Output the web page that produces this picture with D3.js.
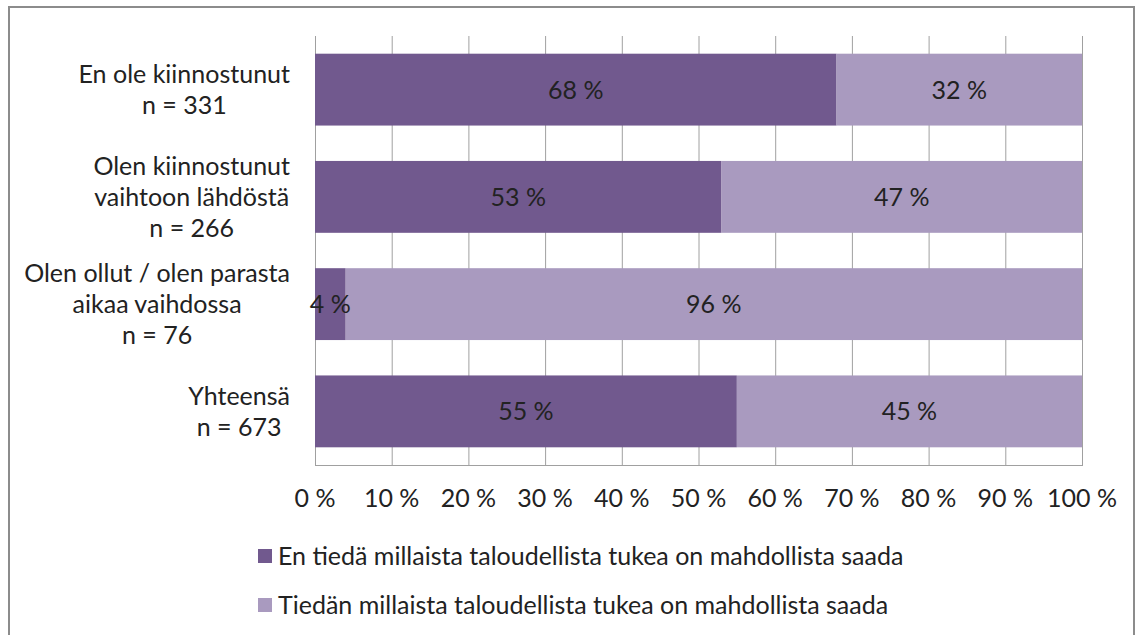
<!DOCTYPE html>
<html>
<head>
<meta charset="utf-8">
<script src="https://cdn.jsdelivr.net/npm/d3@7"></script>
<style>
  body { margin: 0; background: #fff; }
  text { font-family: Lato, "Open Sans", sans-serif; fill: #222; }
</style>
</head>
<body>
<div id="chart"></div>
<script>
// data
var categories = [
  ["En ole kiinnostunut", "n = 331"],
  ["Olen kiinnostunut", "vaihtoon lähdöstä", "n = 266"],
  ["Olen ollut / olen parasta", "aikaa vaihdossa", "n = 76"],
  ["Yhteensä", "n = 673"]
];
var dontKnow = [68, 53, 4, 55];
var know = [32, 47, 96, 45];
var seriesNames = [
  "En tiedä millaista taloudellista tukea on mahdollista saada",
  "Tiedän millaista taloudellista tukea on mahdollista saada"
];
var colors = ["#71598e", "#a99abf"];
var ticks = [0, 10, 20, 30, 40, 50, 60, 70, 80, 90, 100];

var W = 1144, H = 635;
var fs = 25;

var svg = d3.select("#chart").append("svg")
    .attr("width", W)
    .attr("height", H);

// outer frame
svg.append("rect")
    .attr("x", 9).attr("y", 7)
    .attr("width", 1125).attr("height", 640)
    .attr("fill", "none")
    .attr("stroke", "#8c8c8c")
    .attr("stroke-width", 2);

var x = d3.scaleLinear().domain([0, 100]).range([315, 1082]);
var y = d3.scaleBand().domain(d3.range(categories.length)).range([36, 465]).paddingInner(0.33).paddingOuter(0.165);

// grid lines
svg.append("g").selectAll("line")
  .data(ticks)
  .enter().append("line")
    .attr("x1", function(d) { return x(d) + 0.5; })
    .attr("x2", function(d) { return x(d) + 0.5; })
    .attr("y1", 36).attr("y2", 465)
    .attr("stroke", "#a0a0a0");

svg.append("line")
    .attr("x1", x(0)).attr("x2", x(100) + 1)
    .attr("y1", 465.5).attr("y2", 465.5)
    .attr("stroke", "#a0a0a0");

// bars
var stacked = categories.map(function(c, i) {
  return [
    {i: i, s: 0, x0: 0, x1: dontKnow[i], v: dontKnow[i]},
    {i: i, s: 1, x0: dontKnow[i], x1: 100, v: know[i]}
  ];
});

var rows = svg.append("g").selectAll("g")
  .data(stacked)
  .enter().append("g");

rows.selectAll("rect")
  .data(function(d) { return d; })
  .enter().append("rect")
    .attr("x", function(d) { return x(d.x0); })
    .attr("width", function(d) { return x(d.x1) - x(d.x0); })
    .attr("y", function(d) { return y(d.i); })
    .attr("height", y.bandwidth())
    .attr("fill", function(d) { return colors[d.s]; });

rows.selectAll("text")
  .data(function(d) { return d; })
  .enter().append("text")
    .attr("x", function(d) { return (x(d.x0) + x(d.x1)) / 2; })
    .attr("y", function(d) { return y(d.i) + y.bandwidth() / 2; })
    .attr("dy", "0.36em")
    .attr("text-anchor", "middle")
    .style("font-size", fs + "px")
    .text(function(d) { return d.v + " %"; });

// category labels, lines centred inside a block that ends at x = 290
var lineH = 31;
categories.forEach(function(lines, i) {
  var g = svg.append("g");
  var cy = y(i) + y.bandwidth() / 2;
  var t0 = cy - (lines.length - 1) * lineH / 2;
  var texts = g.selectAll("text")
    .data(lines)
    .enter().append("text")
      .attr("y", function(d, k) { return t0 + k * lineH; })
      .attr("dy", "0.36em")
      .attr("text-anchor", "middle")
      .style("font-size", fs + "px")
      .text(function(d) { return d; });
  var maxW = 0;
  texts.each(function() { maxW = Math.max(maxW, this.getComputedTextLength()); });
  texts.attr("x", 290 - maxW / 2);
});

// x tick labels
svg.append("g").selectAll("text")
  .data(ticks)
  .enter().append("text")
    .attr("x", function(d) { return x(d); })
    .attr("y", 507)
    .attr("text-anchor", "middle")
    .style("font-size", fs + "px")
    .text(function(d) { return d + " %"; });

// legend
var legend = svg.append("g").selectAll("g")
  .data(seriesNames)
  .enter().append("g")
    .attr("transform", function(d, i) { return "translate(258," + (556 + i * 49) + ")"; });

legend.append("rect")
    .attr("x", 0).attr("y", -7)
    .attr("width", 14).attr("height", 14)
    .attr("fill", function(d, i) { return colors[i]; });

legend.append("text")
    .attr("x", 20)
    .attr("dy", "0.36em")
    .style("font-size", fs + "px")
    .text(function(d) { return d; });
</script>
</body>
</html>
